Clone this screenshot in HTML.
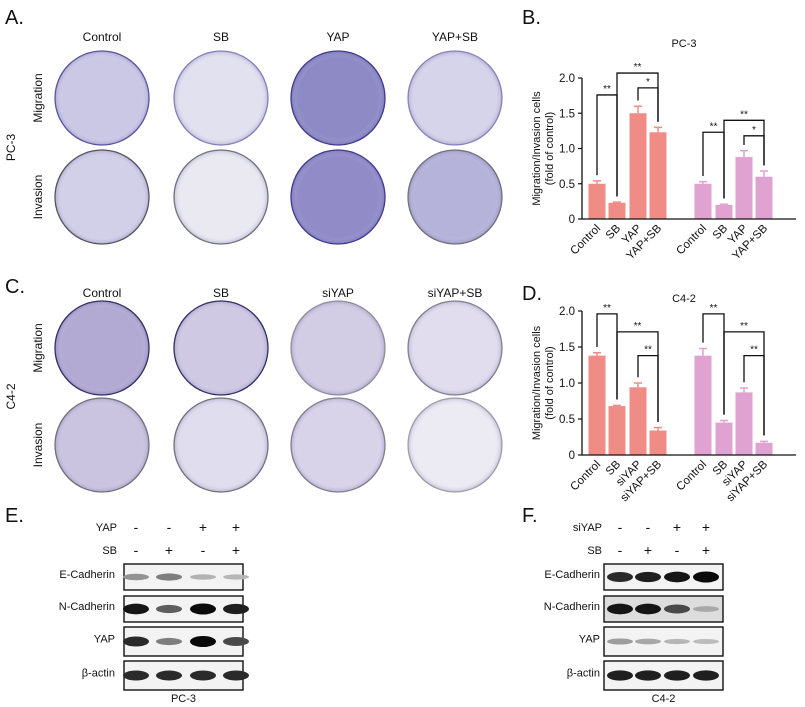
<!DOCTYPE html>
<html><head><meta charset="utf-8"><style>
html,body{margin:0;padding:0;background:#fff;}
svg{display:block;font-family:"Liberation Sans",sans-serif;}
</style></head><body>
<svg id="fig" width="805" height="707" viewBox="0 0 805 707">
<defs>
<radialGradient id="edge" cx="50%" cy="50%" r="50%">
<stop offset="85%" stop-color="#fff" stop-opacity="0"/>
<stop offset="100%" stop-color="#4a4590" stop-opacity="0.25"/>
</radialGradient>
</defs>
<g id="wells"></g>
<g id="charts"></g>
<g id="blots"></g>
</svg>
<script>
// ---- data ----
const groupsB = ["Control","SB","YAP","YAP+SB"];
const migB = [0.5,0.23,1.5,1.23];
const migBerr = [0.04,0.01,0.1,0.07];
const invB = [0.5,0.2,0.88,0.6];
const invBerr = [0.03,0.01,0.09,0.08];
const groupsD = ["Control","SB","siYAP","siYAP+SB"];
const migD = [1.38,0.68,0.94,0.34];
const migDerr = [0.04,0.01,0.06,0.04];
const invD = [1.38,0.45,0.87,0.17];
const invDerr = [0.1,0.03,0.06,0.02];
const yTicks = [0,0.5,1.0,1.5,2.0];
const yTickLabels = ["0","0.5","1.0","1.5","2.0"];
const sigB = [[0,1,1.76,"**",0],[1,3,2.07,"**",0],[2,3,1.86,"*",0],[0,1,1.23,"**",1],[1,3,1.4,"**",1],[2,3,1.18,"*",1]];
const sigD = [[0,1,1.96,"**",0],[1,3,1.71,"**",0],[2,3,1.38,"**",0],[0,1,1.96,"**",1],[1,3,1.71,"**",1],[2,3,1.38,"**",1]];

const NS="http://www.w3.org/2000/svg";
function mk(tag,attrs,parent,text){const e=document.createElementNS(NS,tag);for(const k in attrs)e.setAttribute(k,attrs[k]);if(text!==undefined)e.textContent=text;(parent||document.getElementById('fig')).appendChild(e);return e;}
const fig=document.getElementById('fig');

function txt(x,y,s,size,name){const t=mk('text',{x:x,y:y,'font-size':size,fill:'#111'},fig,s);return t;}
txt(5,24,"A.",20,"panel-a-label");
txt(522,24,"B.",20,"panel-b-label");
txt(5,293,"C.",20,"panel-c-label");
txt(522,300,"D.",20,"panel-d-label");
txt(5,522,"E.",20,"panel-e-label");
txt(522,522,"F.",20,"panel-f-label");

const wellX=[102,221,338,455];
const wellsG=document.getElementById('wells');
function wellBlock(labels,yLab,rows,colors,strokes,cell){
  labels.forEach((l,i)=>{const t=mk('text',{x:wellX[i],y:yLab,'font-size':12,'text-anchor':'middle',fill:'#111'},wellsG,l);});
  rows.forEach((r,ri)=>{
    const t=mk('text',{x:0,y:0,'font-size':12,'text-anchor':'middle',fill:'#111',transform:`translate(42,${r.cy}) rotate(-90)`},wellsG,r.name);
    
    wellX.forEach((x,i)=>{
      const c=mk('circle',{cx:x,cy:r.cy,r:47,fill:colors[ri][i],stroke:strokes[ri][i],'stroke-width':1.3},wellsG);
      
      const e=mk('circle',{cx:x,cy:r.cy,r:47,fill:'url(#edge)'},wellsG);
      
    });
  });
  const t=mk('text',{x:0,y:0,'font-size':12,'text-anchor':'middle',fill:'#111',transform:`translate(15,${(rows[0].cy+rows[1].cy)/2}) rotate(-90)`},wellsG,cell);
  
}
wellBlock(groupsB,41,[{name:"Migration",cy:98},{name:"Invasion",cy:197}],
 [["#cbc8e6","#e2e1f0","#8e8ac6","#d6d4ea"],["#d2cfe8","#eae9f2","#918cc8","#b6b3da"]],
 [["#5a55a5","#8c89c0","#3d3890","#8f8cbf"],["#555","#777","#3d3890","#777"]],"PC-3");
wellBlock(groupsD,297,[{name:"Migration",cy:348},{name:"Invasion",cy:445}],
 [["#b2aad3","#cfc9e3","#d2cce5","#e1ddee"],["#cbc4e0","#e0ddee","#d8d3e9","#ecebf3"]],
 [["#2e2a60","#2e2a60","#999","#888"],["#777","#777","#888","#aaa"]],"C4-2");

function chart(o){
  const g=mk('g',{},document.getElementById('charts'));
  
  const y=v=>o.y0-(v/2.0)*(o.y0-o.y2);
  const ax=582;
  const centers=[597,617,638,658,703,724,744,764];
  const bw=17;
  const t=mk('text',{x:684,y:o.titleY,'font-size':11,'text-anchor':'middle',fill:'#111'},g,o.title);
  
  const series=[[o.mig,o.migErr,'#f08c86'],[o.inv,o.invErr,'#e0a2d0']];
  series.forEach((s,si)=>{
    s[0].forEach((v,i)=>{
      const cx=centers[si*4+i];
      const b=mk('rect',{x:cx-bw/2,y:y(v),width:bw,height:y(0)-y(v),fill:s[2]},g);
      
      
      const e=mk('path',{d:`M${cx},${y(v)} V${y(v+s[1][i])} M${cx-4},${y(v+s[1][i])} H${cx+4}`,stroke:s[2],'stroke-width':1.5,fill:'none'},g);
      
      const lb=mk('text',{x:0,y:0,'font-size':11.5,'text-anchor':'end',fill:'#111',transform:`translate(${cx+4},${y(0)+10}) rotate(-45)`},g,o.groups[i]);
      
    });
  });
  const axis=mk('path',{d:`M${ax},${y(2.0)} V${y(0)} H796`,stroke:'#111','stroke-width':1.3,fill:'none'},g);
  
  yTicks.forEach((v,i)=>{
    const tk=mk('line',{x1:ax-4,x2:ax,y1:y(v),y2:y(v),stroke:'#111','stroke-width':1.2},g);
    
    const tl=mk('text',{x:ax-7,y:y(v)+4,'font-size':11.5,'text-anchor':'end',fill:'#111'},g,yTickLabels[i]);
    
  });
  const yt=mk('text',{x:0,y:0,'font-size':11,'text-anchor':'middle',fill:'#111',transform:`translate(540,${(y(0)+y(2))/2}) rotate(-90)`},g);
  
  mk('tspan',{x:0,dy:0},yt,"Migration/Invasion cells");
  mk('tspan',{x:0,dy:13},yt,"(fold of control)");
  o.sig.forEach(s=>{
    const vals=s[4]?o.inv:o.mig, errs=s[4]?o.invErr:o.migErr;
    const xa=centers[s[4]*4+s[0]], xb=centers[s[4]*4+s[1]];
    const ya=y(vals[s[0]]+errs[s[0]]+0.08), yb=y(vals[s[1]]+errs[s[1]]+0.08), yt2=y(s[2]);
    const p=mk('path',{d:`M${xa},${ya} V${yt2} H${xb} V${yb}`,stroke:'#111','stroke-width':1.3,fill:'none'},g);
    
    const st=mk('text',{x:(xa+xb)/2,y:yt2-3,'font-size':10,'text-anchor':'middle',fill:'#111'},g,s[3]);
    
  });
}
chart({name:'chart-pc3',title:'PC-3',titleY:47,y0:219,y2:78,groups:groupsB,mig:migB,migErr:migBerr,inv:invB,invErr:invBerr,sig:sigB});
chart({name:'chart-c42',title:'C4-2',titleY:302,y0:455,y2:311,groups:groupsD,mig:migD,migErr:migDerr,inv:invD,invErr:invDerr,sig:sigD});

const blotRows=["E-Cadherin","N-Cadherin","YAP","β-actin"];
const blotBoxes=[[564,590],[596,622],[627,656],[661,690]];
const bandsE=[[0.35,0.45,0.2,0.18],[0.95,0.6,1.0,0.9],[0.85,0.45,1.0,0.7],[0.85,0.85,0.85,0.85]];
const bandsF=[[0.85,0.9,0.95,1.0],[0.95,0.95,0.7,0.25],[0.3,0.25,0.18,0.15],[0.9,0.9,0.9,0.9]];
function blot(o){
  const g=mk('g',{},document.getElementById('blots'));
  
  o.hdr.forEach((h,hi)=>{
    const yy=[531,554][hi];
    const l=mk('text',{x:o.labX,y:yy,'font-size':11,'text-anchor':'end',fill:'#111'},g,h[0]);
    
    h[1].forEach((s,i)=>{const t=mk('text',{x:o.lanes[i],y:yy+1,'font-size':14,'text-anchor':'middle',fill:'#111'},g,s);
      });
  });
  blotRows.forEach((r,ri)=>{
    const [y1,y2]=blotBoxes[ri];
    const l=mk('text',{x:o.labX-2,y:(y1+y2)/2+1,'font-size':11,'text-anchor':'end',fill:'#111'},g,r);
    
    const bx=mk('rect',{x:o.bx,y:y1,width:o.bw,height:y2-y1,fill:ri==1&&o.name=='blot-c42'?'#ddd':'#f3f3f3',stroke:'#111','stroke-width':1.4},g);
    
    o.bands[ri].forEach((v,i)=>{
      const sh=Math.round(220-v*210);
      const b=mk('ellipse',{cx:o.lanes[i],cy:(y1+y2)/2,rx:13,ry:2+v*3.5,fill:`rgb(${sh},${sh},${sh})`},g);
      
    });
  });
  const c=mk('text',{x:o.bx+o.bw/2,y:702,'font-size':11,'text-anchor':'middle',fill:'#111'},g,o.cell);
  
}
blot({name:'blot-pc3',labX:117,bx:124,bw:119,lanes:[136,169,203,236],cell:'PC-3',bands:bandsE,
  hdr:[["YAP",["-","-","+","+"]],["SB",["-","+","-","+"]]]});
blot({name:'blot-c42',labX:602,bx:604,bw:119,lanes:[620,648,677,706],cell:'C4-2',bands:bandsF,
  hdr:[["siYAP",["-","-","+","+"]],["SB",["-","+","-","+"]]]});
</script>
</body></html>
